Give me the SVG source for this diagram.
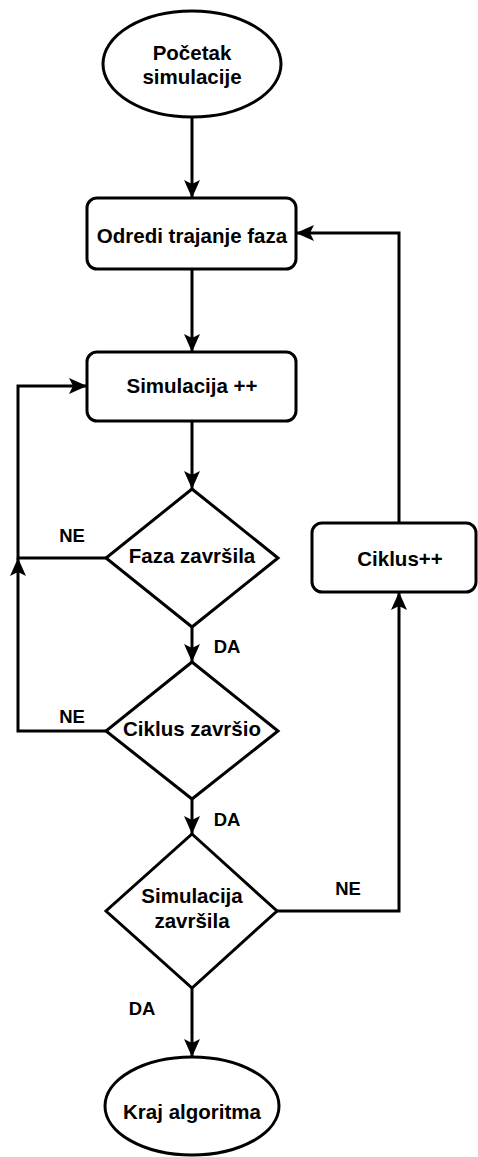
<svg xmlns="http://www.w3.org/2000/svg" width="478" height="1157" viewBox="0 0 478 1157">
<defs>
<style>
.shape{fill:#fff;stroke:#000;stroke-width:3}
.t{font-family:"Liberation Sans",Arial,sans-serif;font-weight:bold;font-size:20.5px;fill:#000;text-anchor:middle}
.lbl{font-family:"Liberation Sans",Arial,sans-serif;font-weight:bold;font-size:18.5px;fill:#000;text-anchor:middle}
.c{fill:none;stroke:#000;stroke-width:3}
</style>
<marker id="arr" markerUnits="userSpaceOnUse" markerWidth="20" markerHeight="18" refX="18" refY="8" orient="auto" viewBox="0 0 20 18">
<path d="M0,0 L18,8 L0,16 L4,8 Z" fill="#000"/>
</marker>
</defs>
<g id="connectors">
<path class="c" d="M192,117 L192,198" marker-end="url(#arr)"/>
<path class="c" d="M192,269 L192,352" marker-end="url(#arr)"/>
<path class="c" d="M192,421 L192,489" marker-end="url(#arr)"/>
<path class="c" d="M192,627 L192,662" marker-end="url(#arr)"/>
<path class="c" d="M192,799 L192,834" marker-end="url(#arr)"/>
<path class="c" d="M192,988 L192,1057" marker-end="url(#arr)"/>
<path class="c" d="M106,558 L18,558 L18,386 L87,386" marker-end="url(#arr)"/>
<path class="c" d="M106,731 L18,731 L18,558" marker-end="url(#arr)"/>
<path class="c" d="M277,911 L399,911 L399,592" marker-end="url(#arr)"/>
<path class="c" d="M399,523 L399,233 L296,233" marker-end="url(#arr)"/>
<text class="lbl" x="72" y="542">NE</text>
<text class="lbl" x="227" y="653">DA</text>
<text class="lbl" x="72" y="723">NE</text>
<text class="lbl" x="227" y="826">DA</text>
<text class="lbl" x="348" y="895">NE</text>
<text class="lbl" x="142" y="1015">DA</text>
</g>
<g id="start">
<ellipse class="shape" cx="192" cy="64" rx="89" ry="53"/>
<text class="t" x="192" y="60">Početak</text>
<text class="t" x="192" y="84">simulacije</text>
</g>
<g id="odredi">
<rect class="shape" x="87" y="198" width="209" height="71" rx="10"/>
<text class="t" x="192" y="243">Odredi trajanje faza</text>
</g>
<g id="simulacija">
<rect class="shape" x="87" y="352" width="209" height="69" rx="10"/>
<text class="t" x="192" y="393">Simulacija ++</text>
</g>
<g id="faza">
<path class="shape" d="M192,489 L278,558 L192,627 L106,558 Z"/>
<text class="t" x="192" y="563">Faza završila</text>
</g>
<g id="ciklusZavrsio">
<path class="shape" d="M192,662 L278,731 L192,799 L106,731 Z"/>
<text class="t" x="192" y="736">Ciklus završio</text>
</g>
<g id="simZavrsila">
<path class="shape" d="M192,834 L277,911 L192,988 L106,911 Z"/>
<text class="t" x="192" y="903">Simulacija</text>
<text class="t" x="192" y="928">završila</text>
</g>
<g id="ciklus">
<rect class="shape" x="312" y="523" width="164" height="69" rx="10"/>
<text class="t" x="400" y="566">Ciklus++</text>
</g>
<g id="kraj">
<ellipse class="shape" cx="192" cy="1106" rx="87" ry="49"/>
<text class="t" x="192" y="1119">Kraj algoritma</text>
</g>
</svg>
